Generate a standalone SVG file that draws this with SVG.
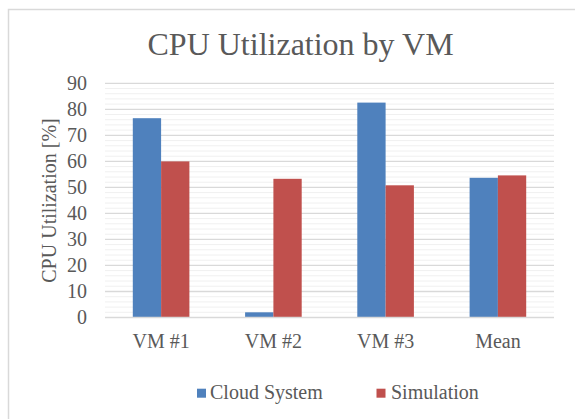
<svg xmlns="http://www.w3.org/2000/svg" width="575" height="419" viewBox="0 0 575 419">
<style>
text{font-family:"Liberation Serif","Times New Roman",serif;fill:#595959}
.t{font-size:20px}
.ttl{font-size:32px}
.minor{stroke:#f0f0f0;stroke-width:1;fill:none}
.major{stroke:#d9d9d9;stroke-width:1.3;fill:none}
.cs{fill:#4f81bd}
.sim{fill:#c0504d}
</style>
<rect x="0" y="0" width="575" height="419" fill="#ffffff"/>
<rect x="8.5" y="9.5" width="620" height="480" fill="none" stroke="#d9d9d9" stroke-width="1.5"/>
<text id="title" class="ttl" x="147.5" y="55">CPU Utilization by VM</text>
<g id="grid">
<path class="minor" d="M105 88.5H554M105 93.7H554M105 98.9H554M105 104.1H554M105 114.5H554M105 119.7H554M105 124.9H554M105 130.1H554M105 140.6H554M105 145.8H554M105 151H554M105 156.2H554M105 166.6H554M105 171.8H554M105 177H554M105 182.2H554M105 192.6H554M105 197.8H554M105 203H554M105 208.2H554M105 218.6H554M105 223.8H554M105 229H554M105 234.2H554M105 244.6H554M105 249.8H554M105 255H554M105 260.2H554M105 270.6H554M105 275.8H554M105 281H554M105 286.2H554M105 296.7H554M105 301.9H554M105 307.1H554M105 312.3H554"/>
<path class="major" d="M105 83.3H554M105 109.3H554M105 135.4H554M105 161.4H554M105 187.4H554M105 213.4H554M105 239.4H554M105 265.4H554M105 291.5H554"/>
</g>
<g id="yaxis" class="t" text-anchor="end">
<text x="87" y="324.3">0</text>
<text x="87" y="298.3">10</text>
<text x="87" y="272.2">20</text>
<text x="87" y="246.2">30</text>
<text x="87" y="220.2">40</text>
<text x="87" y="194.2">50</text>
<text x="87" y="168.2">60</text>
<text x="87" y="142.2">70</text>
<text x="87" y="116.1">80</text>
<text x="87" y="90.1">90</text>
</g>
<text id="ytitle" class="t" text-anchor="middle" transform="translate(55.5 200.5) rotate(-90)">CPU Utilization [%]</text>
<g id="series-cloud">
<rect class="cs" x="132.8" y="118.2" width="28.3" height="199.3"/>
<rect class="cs" x="245.1" y="312.3" width="28.3" height="5.2"/>
<rect class="cs" x="357.3" y="102.6" width="28.3" height="214.9"/>
<rect class="cs" x="469.6" y="177.8" width="28.3" height="139.7"/>
</g>
<g id="series-sim">
<rect class="sim" x="161.1" y="161.4" width="28.3" height="156.1"/>
<rect class="sim" x="273.4" y="178.8" width="28.3" height="138.7"/>
<rect class="sim" x="385.6" y="185.3" width="28.3" height="132.2"/>
<rect class="sim" x="497.9" y="175.4" width="28.3" height="142.1"/>
</g>
<path class="major" d="M105 317.5H554" stroke-width="1.6"/>
<g id="xaxis" class="t" text-anchor="middle">
<text x="161.1" y="348">VM #1</text>
<text x="273.4" y="348">VM #2</text>
<text x="385.6" y="348">VM #3</text>
<text x="497.9" y="348">Mean</text>
</g>
<g id="legend">
<rect class="cs" x="197" y="388.7" width="9" height="9"/>
<text class="t" x="210" y="399">Cloud System</text>
<rect class="sim" x="376.5" y="388.7" width="9" height="9"/>
<text class="t" x="391" y="399">Simulation</text>
</g>
</svg>
